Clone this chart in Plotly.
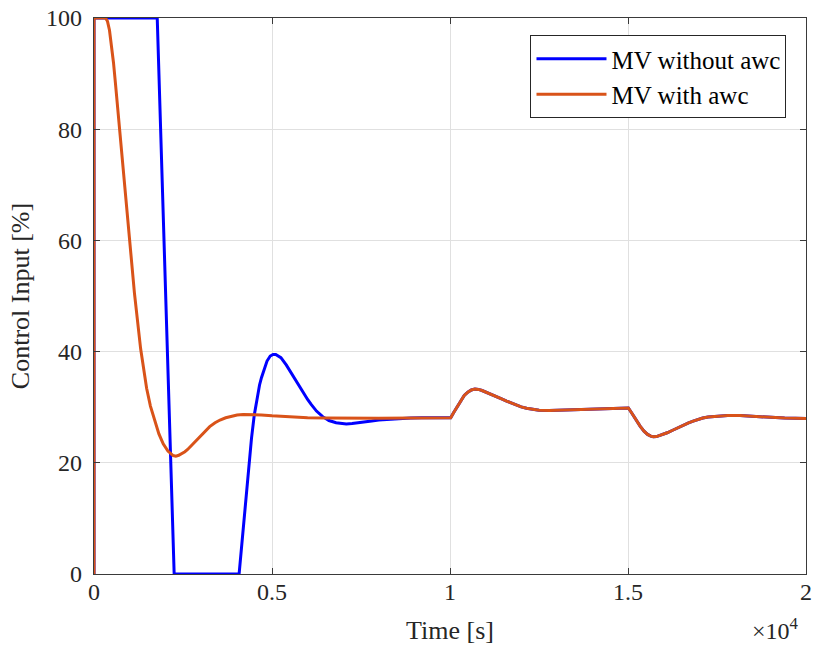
import plotly.graph_objects as go

# ---- data (time in s, control input in %) ----
t_blue_start = [0, 0, 1776, 2252, 4076, 4200, 4320, 4424, 4500, 4580, 4650, 4704,
                4780, 4860, 4950, 5030, 5105, 5180, 5250, 5400, 5550, 5700, 5778,
                5900, 6000, 6100, 6250, 6424, 6600, 6800, 6950, 7088, 7250, 7400,
                7600, 7800, 8000, 8200, 8400, 8583, 8900, 9200, 10000]
v_blue_start = [0, 100, 100, 0, 0, 9.0, 17.5, 24.4, 28.5, 31.8, 34.0, 35.3,
                37.0, 38.3, 39.2, 39.5, 39.5, 39.2, 38.9, 37.6, 36.0, 34.4, 33.7,
                32.4, 31.4, 30.5, 29.3, 28.3, 27.6, 27.2, 27.05, 27.0, 27.05, 27.15,
                27.35, 27.5, 27.7, 27.8, 27.9, 28.0, 28.05, 28.1, 28.1]

t_orange_start = [0, 0, 323, 379, 435, 491, 547, 603, 659, 715, 842, 990, 1136,
                  1310, 1389, 1478, 1585, 1711, 1823, 1944, 2076, 2224, 2300, 2380,
                  2460, 2553, 2630, 2700, 2770, 2833, 2900, 2973, 3100, 3250, 3400,
                  3540, 3700, 3850, 4020, 4190, 4450, 4700, 5000, 5310, 5650, 6000,
                  6500, 7000, 8000, 9000, 10000]
v_orange_start = [0, 100, 100, 99.4, 97.8, 95.3, 92.0, 88.2, 84.1, 80.0, 70.8, 60.0,
                  50.5, 40.5, 36.8, 33.4, 30.2, 27.3, 25.2, 23.4, 22.1, 21.3, 21.2,
                  21.35, 21.6, 22.0, 22.4, 22.85, 23.3, 23.7, 24.2, 24.7, 25.6, 26.5,
                  27.2, 27.7, 28.1, 28.4, 28.6, 28.7, 28.7, 28.6, 28.45, 28.3, 28.2,
                  28.1, 28.05, 28.0, 28.0, 28.05, 28.1]

# common response after the set-point changes (both curves coincide)
t_tail = [10020, 10100, 10200, 10300, 10400, 10500, 10600, 10700, 10800, 10900,
          11000, 11150, 11300, 11450, 11590, 11730, 11870, 12000, 12150, 12300,
          12500, 12800, 13000, 13280, 13600, 14000, 14500, 15010, 15100, 15200,
          15340, 15450, 15550, 15640, 15710, 15800, 15950, 16100, 16270, 16420,
          16550, 16700, 16830, 16970, 17100, 17250, 17400, 17600, 17800, 18150,
          18500, 18890, 19400, 20000]
v_tail = [28.1, 29.0, 30.1, 31.2, 32.1, 32.7, 33.1, 33.25, 33.2, 33.0,
          32.75, 32.35, 31.9, 31.5, 31.1, 30.7, 30.35, 30.05, 29.8, 29.6,
          29.45, 29.4, 29.45, 29.5, 29.6, 29.7, 29.8, 29.85, 29.0, 27.9,
          26.6, 25.7, 25.1, 24.8, 24.7, 24.72, 25.0, 25.4, 25.9, 26.4,
          26.8, 27.2, 27.5, 27.8, 28.05, 28.25, 28.35, 28.45, 28.5, 28.5,
          28.35, 28.2, 28.05, 27.95]

x_tickvals = [0, 5000, 10000, 15000, 20000]
x_ticktext = ["0", "0.5", "1", "1.5", "2"]
y_tickvals = [0, 20, 40, 60, 80, 100]

names = ["MV without awc", "MV with awc"]
colors = ["#0000FF", "#D95319"]

t_blue = t_blue_start + t_tail
v_blue = v_blue_start + v_tail
t_orange = t_orange_start + t_tail
v_orange = v_orange_start + v_tail

FONT = "Liberation Serif, Times New Roman, serif"
AXC = "#3a3a3a"
TXT = "#262626"

fig = go.Figure()
fig.add_trace(go.Scatter(x=t_blue, y=v_blue, mode="lines", name=names[0],
                         line=dict(color=colors[0], width=3)))
fig.add_trace(go.Scatter(x=t_orange, y=v_orange, mode="lines", name=names[1],
                         line=dict(color=colors[1], width=3)))

axis_common = dict(showline=True, linecolor=AXC, linewidth=1.2, mirror="allticks",
                   ticks="inside", ticklen=6, tickwidth=1, tickcolor=AXC,
                   showgrid=True, gridcolor="#e0e0e0", gridwidth=1, zeroline=False,
                   tickfont=dict(family=FONT, size=24, color=TXT))

fig.update_xaxes(range=[0, 20000], tickvals=x_tickvals, ticktext=x_ticktext,
                 title=dict(text="Time [s]", font=dict(family=FONT, size=26, color=TXT),
                            standoff=16),
                 ticklabelstandoff=-4, **axis_common)
fig.update_yaxes(range=[0, 100], tickvals=y_tickvals,
                 title=dict(text="Control Input [%]", font=dict(family=FONT, size=26, color=TXT),
                            standoff=8),
                 ticklabelstandoff=6, **axis_common)

fig.add_annotation(text="×10<sup>4</sup>", xref="paper", yref="paper",
                   x=1.0, y=0, xanchor="right", yanchor="top", yshift=-38, xshift=-5,
                   showarrow=False, font=dict(family=FONT, size=24, color=TXT))

fig.update_layout(
    width=813, height=655,
    margin=dict(l=94, r=7, t=18, b=81, autoexpand=False),
    paper_bgcolor="white", plot_bgcolor="white",
    showlegend=True,
    legend=dict(x=0.9726, y=0.9694, xanchor="right", yanchor="top",
                bgcolor="white", bordercolor="#262626", borderwidth=1,
                font=dict(family=FONT, size=25, color="black"),
                itemwidth=70, tracegroupgap=0),
)

fig.write_html("out.html")
